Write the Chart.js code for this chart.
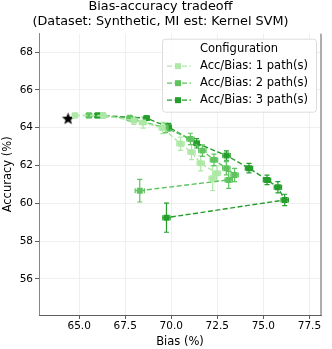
<!DOCTYPE html>
<html>
<head>
<meta charset="utf-8">
<script src="https://cdn.jsdelivr.net/npm/chart.js@4.4.0/dist/chart.umd.min.js"></script>
<style>
  body { margin: 0; background: #fff; }
  #wrap { width: 332px; height: 349px; }
</style>
</head>
<body>
<div id="wrap"><canvas id="chart" width="332" height="349"></canvas></div>
<script>
// values
const seriesLabels = ['Acc/Bias: 1 path(s)', 'Acc/Bias: 2 path(s)', 'Acc/Bias: 3 path(s)'];

const biasOne = [64.77, 66.30, 67.97, 68.47, 69.54, 70.50, 71.10, 71.60, 72.48, 72.25];
const accOne = [64.65, 64.65, 64.38, 64.28, 63.99, 63.15, 62.71, 62.12, 61.59, 61.33];
const biasErrOne = [0.15, 0.15, 0.15, 0.2, 0.2, 0.2, 0.2, 0.2, 0.2, 0.2];
const accErrOne = [0.12, 0.15, 0.2, 0.3, 0.3, 0.35, 0.4, 0.4, 0.4, 0.65];

const biasTwo = [65.53, 67.75, 69.70, 71.04, 71.69, 72.32, 72.99, 73.44, 73.12, 68.29];
const accTwo = [64.65, 64.51, 63.99, 63.41, 62.79, 62.30, 61.86, 61.50, 61.24, 60.67];
const biasErrTwo = [0.15, 0.15, 0.15, 0.2, 0.2, 0.2, 0.2, 0.2, 0.2, 0.25];
const accErrTwo = [0.12, 0.15, 0.25, 0.3, 0.3, 0.3, 0.35, 0.35, 0.45, 0.6];

const biasThree = [66.00, 68.66, 69.86, 71.38, 73.00, 74.22, 75.20, 75.79, 76.16, 69.74];
const accThree = [64.65, 64.51, 64.03, 63.18, 62.53, 61.86, 61.24, 60.85, 60.18, 59.24];
const biasErrThree = [0.15, 0.15, 0.15, 0.15, 0.2, 0.2, 0.2, 0.2, 0.2, 0.2];
const accErrThree = [0.12, 0.12, 0.2, 0.25, 0.25, 0.25, 0.25, 0.3, 0.3, 0.77];

const refBias = [64.4];
const refAcc = [64.51];

const xTicks = [65, 67.5, 70, 72.5, 75, 77.5];
const yTicks = [56, 58, 60, 62, 64, 66, 68];

const colors = ['#aee8a6', '#5fc45f', '#259e2c'];
const FONT = 'DejaVu Sans';

function toPoints(xs, ys) {
  return xs.map((x, i) => ({ x: x, y: ys[i] }));
}

// filled five point star for the reference marker
function makeStar(r, color) {
  const c = document.createElement('canvas');
  c.width = c.height = Math.ceil(r * 2 + 2);
  const g = c.getContext('2d');
  const cx = c.width / 2, cy = c.height / 2 + 0.8;
  g.beginPath();
  for (let k = 0; k < 10; k++) {
    const rad = k % 2 === 0 ? r : r * 0.42;
    const a = -Math.PI / 2 + k * Math.PI / 5;
    g.lineTo(cx + rad * Math.cos(a), cy + rad * Math.sin(a));
  }
  g.closePath();
  g.fillStyle = color;
  g.fill();
  return c;
}

const errs = [
  [biasErrOne, accErrOne],
  [biasErrTwo, accErrTwo],
  [biasErrThree, accErrThree]
];

const errorBars = {
  id: 'errorBars',
  beforeDatasetsDraw(chart) {
    const ctx = chart.ctx;
    const xs = chart.scales.x, ys = chart.scales.y;
    ctx.save();
    errs.forEach((pair, d) => {
      const ds = chart.data.datasets[d];
      ctx.strokeStyle = colors[d];
      ctx.lineWidth = 1.2;
      ds.data.forEach((p, i) => {
        const px = xs.getPixelForValue(p.x);
        const py = ys.getPixelForValue(p.y);
        const x0 = xs.getPixelForValue(p.x - pair[0][i]);
        const x1 = xs.getPixelForValue(p.x + pair[0][i]);
        const y0 = ys.getPixelForValue(p.y - pair[1][i]);
        const y1 = ys.getPixelForValue(p.y + pair[1][i]);
        ctx.beginPath();
        ctx.moveTo(x0, py); ctx.lineTo(x1, py);
        ctx.moveTo(px, y0); ctx.lineTo(px, y1);
        ctx.moveTo(x0, py - 2.5); ctx.lineTo(x0, py + 2.5);
        ctx.moveTo(x1, py - 2.5); ctx.lineTo(x1, py + 2.5);
        ctx.moveTo(px - 2.5, y0); ctx.lineTo(px + 2.5, y0);
        ctx.moveTo(px - 2.5, y1); ctx.lineTo(px + 2.5, y1);
        ctx.stroke();
      });
    });
    ctx.restore();
  }
};

const frameAndLegend = {
  id: 'frameAndLegend',
  afterDraw(chart) {
    const ctx = chart.ctx;
    const a = chart.chartArea;
    ctx.save();
    // right spine
    ctx.strokeStyle = '#333';
    ctx.lineWidth = 0.8;
    ctx.beginPath();
    ctx.moveTo(a.right, a.top);
    ctx.lineTo(a.right, a.bottom);
    ctx.stroke();

    // legend box
    const w = 154, h = 73;
    const bx = a.right - 5 - w, by = a.top + 5;
    ctx.beginPath();
    ctx.roundRect(bx + 0.5, by + 0.5, w, h, 3);
    ctx.fillStyle = 'rgba(255,255,255,0.85)';
    ctx.fill();
    ctx.strokeStyle = '#dcdcdc';
    ctx.lineWidth = 1;
    ctx.stroke();

    ctx.fillStyle = '#000';
    ctx.font = '11.5px "' + FONT + '"';
    ctx.textBaseline = 'middle';
    ctx.textAlign = 'center';
    ctx.fillText('Configuration', bx + w / 2, by + 10);
    ctx.textAlign = 'left';
    seriesLabels.forEach((lab, i) => {
      const ly = by + 27.5 + i * 17;
      ctx.strokeStyle = colors[i];
      ctx.lineWidth = 1.4;
      ctx.setLineDash([5, 2.5]);
      ctx.beginPath();
      ctx.moveTo(bx + 5, ly);
      ctx.lineTo(bx + 29, ly);
      ctx.stroke();
      ctx.setLineDash([]);
      ctx.fillStyle = colors[i];
      ctx.fillRect(bx + 13, ly - 3, 6, 6);
      ctx.fillStyle = '#000';
      ctx.fillText(lab, bx + 38, ly);
    });
    ctx.restore();
  }
};

const datasets = [biasOne, biasTwo, biasThree].map((xs, i) => ({
  label: seriesLabels[i],
  data: toPoints(xs, [accOne, accTwo, accThree][i]),
  showLine: true,
  borderColor: colors[i],
  borderWidth: 1.4,
  borderDash: [5, 2.5],
  backgroundColor: colors[i],
  pointStyle: 'rect',
  pointRadius: 4.2,
  pointBorderWidth: 0,
  pointBackgroundColor: colors[i]
}));

datasets.push({
  label: 'reference',
  data: toPoints(refBias, refAcc),
  pointStyle: makeStar(6.5, '#000'),
  pointRadius: 6,
  showLine: false
});

new Chart(document.getElementById('chart'), {
  type: 'scatter',
  data: { datasets: datasets },
  plugins: [errorBars, frameAndLegend],
  options: {
    responsive: false,
    animation: false,
    layout: { padding: { left: 0, right: 11, top: 0, bottom: 0 } },
    plugins: {
      legend: { display: false },
      tooltip: { enabled: false },
      title: {
        display: true,
        text: ['Bias-accuracy tradeoff', '(Dataset: Synthetic, MI est: Kernel SVM)'],
        color: '#000',
        font: { family: FONT, size: 12.8, weight: 'normal', lineHeight: 1.12 },
        padding: { top: 0, bottom: 5 }
      }
    },
    scales: {
      x: {
        type: 'linear',
        min: 62.82,
        max: 78.13,
        afterBuildTicks: s => { s.ticks = xTicks.map(v => ({ value: v })); },
        afterFit: s => { s.height = 34; },
        ticks: {
          color: '#000',
          font: { family: FONT, size: 10.5 },
          padding: 1,
          maxRotation: 0,
          callback: v => Number(v).toFixed(1)
        },
        grid: { color: '#ebebeb', lineWidth: 0.8, tickLength: 4, tickColor: '#333' },
        border: { color: '#333', width: 0.8 },
        title: {
          display: true,
          text: 'Bias (%)',
          color: '#000',
          font: { family: FONT, size: 11.5 },
          padding: { top: 0, bottom: 0 }
        }
      },
      y: {
        type: 'linear',
        min: 54.09,
        max: 68.98,
        afterBuildTicks: s => { s.ticks = yTicks.map(v => ({ value: v })); },
        afterFit: s => { s.width = 39; },
        ticks: {
          color: '#000',
          font: { family: FONT, size: 10.5 },
          padding: 2
        },
        grid: { color: '#ebebeb', lineWidth: 0.8, tickLength: 4, tickColor: '#333' },
        border: { color: '#666', width: 0.8 },
        title: {
          display: true,
          text: 'Accuracy (%)',
          color: '#000',
          font: { family: FONT, size: 11.5 },
          padding: { top: 1, bottom: 0 }
        }
      }
    }
  }
});
</script>
</body>
</html>
